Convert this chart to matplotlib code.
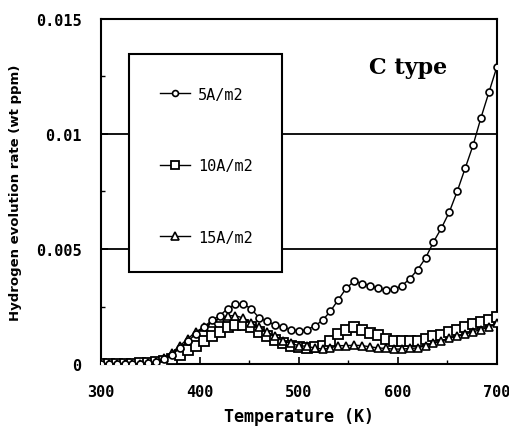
import matplotlib
matplotlib.use('Agg')
import matplotlib.pyplot as plt
from matplotlib.patches import Rectangle
from matplotlib.ticker import MultipleLocator

temperature = [300, 308, 316, 324, 332, 340, 348, 356, 364, 372, 380, 388, 396,
               404, 412, 420, 428, 436, 444, 452, 460, 468, 476, 484, 492, 500,
               508, 516, 524, 532, 540, 548, 556, 564, 572, 580, 588, 596, 604,
               612, 620, 628, 636, 644, 652, 660, 668, 676, 684, 692, 700]

rate_5 = [0, 0, 0, 0, 0, 0.00002, 0.00004, 0.0001, 0.0002, 0.0004, 0.0007, 0.001,
          0.0013, 0.0016, 0.0019, 0.0021, 0.0024, 0.0026, 0.0026, 0.0024, 0.0020,
          0.00185, 0.0017, 0.0016, 0.0015, 0.00143, 0.0015, 0.00165, 0.0019,
          0.0023, 0.0028, 0.0033, 0.0036, 0.0035, 0.0034, 0.0033, 0.0032,
          0.00325, 0.0034, 0.0037, 0.0041, 0.0046, 0.0053, 0.0059, 0.0066,
          0.0075, 0.0085, 0.0095, 0.0107, 0.0118, 0.0129]

rate_10 = [0, 0, 0, 0, 0.00002, 0.00003, 0.00005, 0.00008, 0.00012, 0.0002,
           0.0004, 0.0006, 0.0008, 0.001, 0.0012, 0.0014, 0.0016, 0.0017, 0.0017,
           0.0016, 0.0014, 0.0012, 0.00105, 0.0009, 0.0008, 0.00075, 0.0007,
           0.00072, 0.0008, 0.001, 0.0013, 0.0015, 0.0016, 0.0015, 0.00135,
           0.00125, 0.0011, 0.001, 0.001, 0.001, 0.001, 0.0011, 0.0012, 0.00125,
           0.0014, 0.0015, 0.0016, 0.00172, 0.00183, 0.00193, 0.00203]

rate_15 = [0, 0, 0, 0, 0, 0.00001, 0.00003, 0.0001, 0.00025, 0.0005, 0.0008,
           0.0011, 0.0014, 0.0016, 0.0018, 0.002, 0.0021, 0.0021, 0.002, 0.0018,
           0.0016, 0.0014, 0.0012, 0.001, 0.0009, 0.0008, 0.00077, 0.0007,
           0.00065, 0.0007, 0.0008, 0.0008, 0.00082, 0.0008, 0.00075, 0.0007,
           0.00068, 0.00065, 0.00065, 0.00068, 0.0007, 0.0008, 0.0009, 0.001,
           0.00115, 0.0012, 0.0013, 0.0014, 0.0015, 0.0016, 0.00178]

labels = ['5A/m2', '10A/m2', '15A/m2']
x_ticks = [300, 400, 500, 600, 700]
y_ticks = [0, 0.005, 0.01, 0.015]
y_tick_labels = ['0', '0.005', '0.01', '0.015']


def main():
    fig = plt.figure(figsize=(5.09, 4.31), dpi=100)
    ax = fig.add_axes([0.198, 0.153, 0.778, 0.801])

    mono = 'DejaVu Sans Mono'

    for y in [0.005, 0.01]:
        ax.axhline(y, color='black', lw=1.3, zorder=1)

    l1, = ax.plot(temperature, rate_5, color='black', lw=1.0, marker='o',
                  ms=5, mfc='white', mec='black', mew=1.2, zorder=5)
    l2, = ax.plot(temperature, rate_10, color='black', lw=1.0, marker='s',
                  ms=6.5, mfc='white', mec='black', mew=1.3, zorder=3)
    l3, = ax.plot(temperature, rate_15, color='black', lw=1.0, marker='^',
                  ms=6, mfc='white', mec='black', mew=1.2, zorder=4)

    ax.set_xlim(300, 700)
    ax.set_ylim(0, 0.015)
    ax.set_xticks(x_ticks)
    ax.set_yticks(y_ticks)
    ax.set_yticklabels(y_tick_labels)
    ax.xaxis.set_minor_locator(MultipleLocator(50))
    ax.yaxis.set_minor_locator(MultipleLocator(0.0025))
    ax.tick_params(axis='both', which='major', direction='in', length=5,
                   width=1.2, labelsize=11, pad=14)
    ax.tick_params(axis='both', which='minor', direction='in', length=3,
                   width=1.0)
    for lab in ax.get_xticklabels() + ax.get_yticklabels():
        lab.set_fontfamily(mono)
        lab.set_fontweight('bold')

    for sp in ax.spines.values():
        sp.set_linewidth(1.5)

    ax.set_xlabel('Temperature (K)', fontfamily=mono, fontweight='bold',
                  fontsize=12, labelpad=6)
    ax.set_ylabel('Hydrogen evolution rate (wt ppm)', fontfamily='DejaVu Sans',
                  fontweight='bold', fontsize=9.5, labelpad=10)

    # legend frame drawn over the grid lines
    box = Rectangle((0.071, 0.267), 0.386, 0.632, transform=ax.transAxes,
                    facecolor='white', edgecolor='black', lw=1.5, zorder=6)
    ax.add_patch(box)
    leg = ax.legend([l1, l2, l3], labels, loc='center left',
                    bbox_to_anchor=(0.13, 0.575), frameon=False,
                    prop={'family': mono, 'size': 11},
                    handlelength=2.0, handletextpad=0.5, labelspacing=3.7,
                    borderpad=0, markerscale=0.85)
    leg.set_zorder(7)

    ax.text(0.775, 0.86, 'C type', transform=ax.transAxes, fontfamily='DejaVu Serif',
            fontweight='bold', fontsize=16, ha='center', va='center', zorder=7)

    fig.savefig('out.png', dpi=100)


if __name__ == '__main__':
    main()
